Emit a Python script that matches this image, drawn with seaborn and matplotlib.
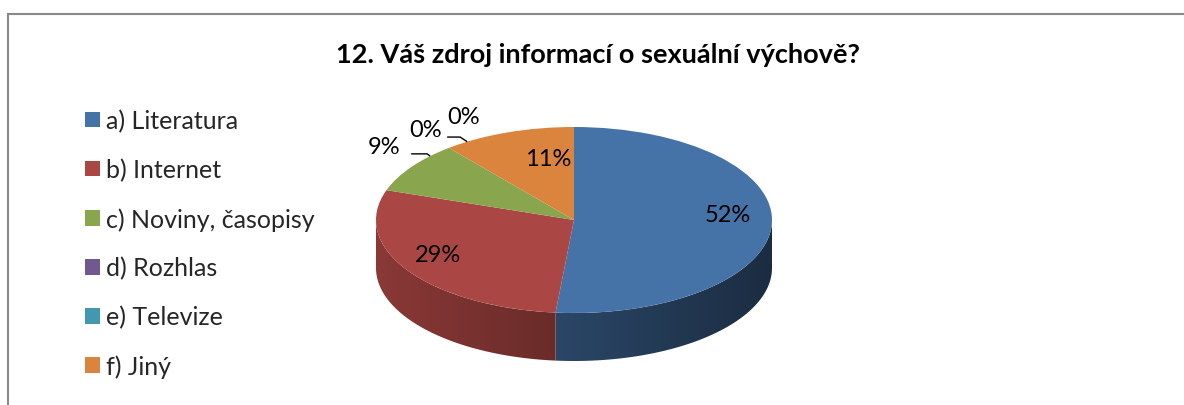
import numpy as np
import matplotlib
matplotlib.use("Agg")
import matplotlib.pyplot as plt
import seaborn as sns
from matplotlib.patches import Rectangle, Polygon
import matplotlib.colors as mcolors

# ---- data ----
categories = ["a) Literatura", "b) Internet", "c) Noviny, časopisy",
              "d) Rozhlas", "e) Televize", "f) Jiný"]
values = [52, 29, 9, 0, 0, 11]
value_labels = ["52%", "29%", "9%", "0%", "0%", "11%"]
title = "12. Váš zdroj informací o sexuální výchově?"
colors = ["#4572A7", "#AA4643", "#89A54E", "#71588F", "#4198AF", "#DB843D"]

sns.set_theme(style="white")
plt.rcParams["font.family"] = ["Lato", "DejaVu Sans"]

W, H = 1184, 406
fig = plt.figure(figsize=(W / 100, H / 100), dpi=100)
ax = fig.add_axes([0, 0, 1, 1])

# pixel geometry of the ellipse
cx, cy = 574, 221       # centre (pixels from left / top)
rx, ry = 198, 93        # radii in pixels
depth_px = 48
depth = depth_px / ry

# top face via library pie (circle in data coords, squashed by axis scales)
wedges, _ = ax.pie(values, colors=colors, startangle=90, counterclock=False,
                   radius=1, center=(0, 0),
                   wedgeprops=dict(linewidth=0, antialiased=True))
for w in wedges:
    w.set_zorder(5)

# side walls (front half) with horizontal shading gradient
fr = np.array(values, float) / np.sum(values)
bounds = np.concatenate([[0], np.cumsum(fr)]) * 360.0  # clockwise from top
gx = np.linspace(-1, 1, 400)
shade = 0.6 - 0.21 * gx
for i, (a0, a1) in enumerate(zip(bounds[:-1], bounds[1:])):
    if a1 - a0 <= 0:
        continue
    lo, hi = max(a0, 90), min(a1, 270)
    if hi <= lo:
        continue
    angs = np.radians(np.linspace(lo, hi, 200))
    top = np.column_stack([np.sin(angs), np.cos(angs)])
    bot = top[::-1] - np.array([0, depth])
    poly = Polygon(np.vstack([top, bot]), closed=True, facecolor="none",
                   edgecolor="none", transform=ax.transData)
    ax.add_patch(poly)
    base = np.array(mcolors.to_rgb(colors[i]))
    img = np.clip(shade[None, :, None] * base[None, None, :], 0, 1)
    im = ax.imshow(img, extent=(-1, 1, -1 - depth, 0.05), aspect="auto",
                   interpolation="bilinear", zorder=2)
    im.set_clip_path(poly)

# axis scaling so that 1 unit = rx px horizontally, ry px vertically
ax.set_aspect("auto")
ax.set_xlim(-cx / rx, (W - cx) / rx)
ax.set_ylim(-(H - cy) / ry, cy / ry)
ax.axis("off")

# data labels
mids = (bounds[:-1] + bounds[1:]) / 2
label_r = [0.78, 0.78, 1.24, 1.23, 1.25, 0.67]
label_ang = [mids[0] - 7.4, mids[1] + 5, mids[2] + 4.6,
             bounds[3] + 1.8, bounds[4] + 12.6, mids[5] + 8.3]
label_pos = []
for i, lab in enumerate(value_labels):
    a = np.radians(label_ang[i])
    tx, ty = label_r[i] * np.sin(a), label_r[i] * np.cos(a)
    label_pos.append((tx, ty))
    ax.text(tx, ty, lab, ha="center", va="center", fontsize=17, color="black", zorder=10)

# leader lines (9% label and the second 0% label)
def rim_y(x):
    return np.sqrt(max(0.0, 1 - x * x))

tx, ty = label_pos[2]
xs = [tx + 27 / rx, tx + 43 / rx, tx + 46 / rx]
ys = [ty - 7 / ry, ty - 7 / ry, rim_y(tx + 46 / rx)]
ax.plot(xs, ys, color="black", lw=1.0, zorder=10, solid_capstyle="butt")
tx, ty = label_pos[4]
xs = [tx - 16 / rx, tx - 3 / rx, tx + 4 / rx]
ys = [ty - 21 / ry, ty - 21 / ry, rim_y(tx + 4 / rx)]
ax.plot(xs, ys, color="black", lw=1.0, zorder=10, solid_capstyle="butt")

# legend
leg = ax.legend(wedges, categories, loc="upper left",
                bbox_to_anchor=(85 / W, 1 - 110 / H), bbox_transform=fig.transFigure,
                frameon=False, fontsize=18, handlelength=0.6, handleheight=0.6,
                handletextpad=0.25, labelspacing=1.03, borderaxespad=0, borderpad=0)

# title
fig.text(598 / W, 1 - 55 / H, title, ha="center", va="center",
         fontsize=19.5, fontweight="bold", color="black")

# chart border (partially visible)
fig.patches.append(Rectangle((7.5 / W, -0.1), 1.2, 1 - 14.5 / H + 0.1,
                             transform=fig.transFigure, fill=False,
                             edgecolor="#898989", linewidth=1.5, zorder=0))

fig.savefig("out.png", dpi=100, facecolor="white")
